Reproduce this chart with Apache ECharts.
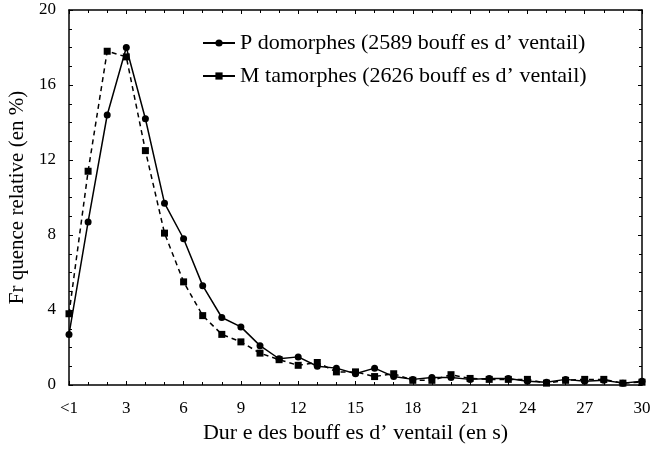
<!DOCTYPE html>
<html>
<head>
<meta charset="utf-8">
<script src="https://cdn.jsdelivr.net/npm/echarts@6/dist/echarts.min.js"></script>
<style>html,body{margin:0;padding:0;background:#fff}#c{width:652px;height:456px}</style>
</head>
<body>
<div id="c"></div>
<script>
// Durations 0 ("<1") .. 30 s
const durations = [0,1,2,3,4,5,6,7,8,9,10,11,12,13,14,15,16,17,18,19,20,21,22,23,24,25,26,27,28,29,30];
const pedomorphes = [2.7,8.7,14.4,18.0,14.2,9.7,7.8,5.3,3.6,3.1,2.1,1.4,1.5,1.0,0.9,0.6,0.9,0.45,0.3,0.4,0.4,0.3,0.35,0.35,0.2,0.15,0.3,0.2,0.25,0.1,0.2];
const metamorphes = [3.8,11.4,17.8,17.5,12.5,8.1,5.5,3.7,2.7,2.3,1.7,1.35,1.05,1.2,0.7,0.7,0.45,0.6,0.25,0.25,0.55,0.35,0.3,0.3,0.3,0.1,0.25,0.3,0.3,0.1,0.15];
const seriesNames = ['P domorphes (2589 bouff es d\u2019 ventail)', 'M tamorphes (2626 bouff es d\u2019 ventail)'];
const xName = 'Dur e des bouff es d\u2019 ventail (en s)';
const yName = 'Fr quence relative (en %)';

const font = 'Liberation Serif';
const chart = echarts.init(document.getElementById('c'));
const axisLine = {show:true, onZero:false, lineStyle:{color:'#000', width:1.5}};
const tick = {show:true, inside:true, length:4, lineStyle:{color:'#000'}};
const minor = (n)=>({show:true, splitNumber:n, length:3, lineStyle:{color:'#000'}});
chart.setOption({
  animation:false,
  textStyle:{fontFamily:font, color:'#000'},
  grid:{left:69, right:10, top:10, bottom:71, containLabel:false, outerBoundsMode:'none'},
  legend:{
    orient:'vertical', left:197, top:27, itemGap:11, itemWidth:32, itemHeight:9,
    textStyle:{fontFamily:font, fontSize:22, color:'#000'},
    data:[
      {name:seriesNames[0], lineStyle:{type:'solid'}},
      {name:seriesNames[1], lineStyle:{type:'solid'}}
    ]
  },
  xAxis:[{
    type:'value', min:0, max:30, interval:3,
    name:xName, nameLocation:'middle', nameGap:36,
    nameTextStyle:{fontFamily:font, fontSize:22, color:'#000'},
    axisLine:axisLine, axisTick:tick, minorTick:minor(3),
    axisLabel:{fontFamily:font, fontSize:17, color:'#000', margin:15,
      formatter:v=> v===0 ? '<1' : String(v)},
    splitLine:{show:false}
  },{
    type:'value', position:'top', min:0, max:30, interval:3,
    axisLine:axisLine, axisTick:tick, minorTick:minor(3),
    axisLabel:{show:false}, splitLine:{show:false}
  }],
  yAxis:[{
    type:'value', min:0, max:20, interval:4,
    name:yName, nameLocation:'middle', nameGap:38,
    nameTextStyle:{fontFamily:font, fontSize:21, color:'#000'},
    axisLine:axisLine, axisTick:tick, minorTick:minor(4),
    axisLabel:{fontFamily:font, fontSize:17, color:'#000', margin:13},
    splitLine:{show:false}
  },{
    type:'value', position:'right', min:0, max:20, interval:4,
    axisLine:axisLine, axisTick:tick, minorTick:minor(4),
    axisLabel:{show:false}, splitLine:{show:false}
  }],
  series:[{
    name:seriesNames[0], type:'line',
    data:durations.map((d,i)=>[d, pedomorphes[i]]),
    symbol:'circle', symbolSize:7,
    lineStyle:{color:'#000', width:1.5, type:'solid'},
    itemStyle:{color:'#000'}
  },{
    name:seriesNames[1], type:'line',
    data:durations.map((d,i)=>[d, metamorphes[i]]),
    symbol:'rect', symbolSize:7,
    lineStyle:{color:'#000', width:1.5, type:[5,4]},
    itemStyle:{color:'#000'}
  }]
});
</script>
</body>
</html>
